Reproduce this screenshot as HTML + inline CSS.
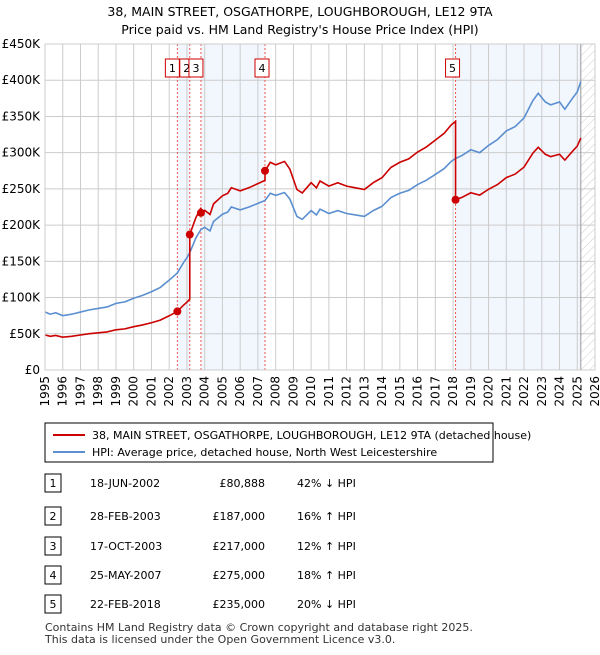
<!DOCTYPE html>
<html><head><meta charset="utf-8"><style>
body{margin:0;background:#fff;font-family:"Liberation Sans","DejaVu Sans",sans-serif;}
svg text{font-family:"DejaVu Sans","Liberation Sans",sans-serif;}
</style></head><body>
<svg id="c" width="600" height="650" viewBox="0 0 600 650" xmlns="http://www.w3.org/2000/svg">
<defs><pattern id="hatch" width="6" height="6" patternUnits="userSpaceOnUse" patternTransform="rotate(45)"><line x1="0" y1="0" x2="0" y2="6" stroke="#ccc" stroke-width="1"/></pattern></defs>
<text x="300" y="16" text-anchor="middle" font-size="12.5">38, MAIN STREET, OSGATHORPE, LOUGHBOROUGH, LE12 9TA</text>
<text x="300" y="34" text-anchor="middle" font-size="12.5">Price paid vs. HM Land Registry's House Price Index (HPI)</text>
<g id="plot"></g>
<g>
<rect x="45" y="423" width="448" height="39" fill="#fff" stroke="#000" stroke-width="1"/>
<line x1="53" y1="435" x2="85" y2="435" stroke="#cc0000" stroke-width="2"/>
<text x="92" y="439" font-size="11">38, MAIN STREET, OSGATHORPE, LOUGHBOROUGH, LE12 9TA (detached house)</text>
<line x1="53" y1="452" x2="85" y2="452" stroke="#5b8fd0" stroke-width="2"/>
<text x="92" y="456" font-size="11">HPI: Average price, detached house, North West Leicestershire</text>
</g>
<g id="table"></g>
<text x="45" y="631" font-size="11" fill="#333">Contains HM Land Registry data © Crown copyright and database right 2025.</text>
<text x="45" y="643" font-size="11" fill="#333">This data is licensed under the Open Government Licence v3.0.</text>
</svg>
<script>
const hpiYears=[1995,1995.3,1995.6,1996,1996.5,1997,1997.5,1998,1998.5,1999,1999.5,2000,2000.5,2001,2001.5,2002,2002.46,2002.8,2003,2003.16,2003.5,2003.79,2004,2004.3,2004.5,2005,2005.3,2005.5,2006,2006.5,2007,2007.4,2007.7,2008,2008.5,2008.8,2009.2,2009.5,2010,2010.3,2010.5,2011,2011.5,2012,2012.5,2013,2013.5,2014,2014.5,2015,2015.5,2016,2016.5,2017,2017.5,2017.9,2018.14,2018.5,2019,2019.5,2020,2020.5,2021,2021.5,2022,2022.5,2022.8,2023.2,2023.5,2024,2024.3,2024.7,2025,2025.2];
const hpiValues=[80000,77000,79000,75000,77000,80000,83000,85000,87000,92000,94000,99000,103000,108000,114000,124000,134000,148000,155000,162000,182000,194000,197000,192000,205000,215000,218000,225000,221000,225000,230000,234000,244000,241000,245000,236000,212000,208000,220000,214000,222000,216000,220000,216000,214000,212000,220000,226000,238000,244000,248000,256000,262000,270000,278000,288000,292000,296000,304000,300000,310000,318000,330000,336000,348000,372000,382000,370000,366000,370000,360000,374000,384000,398000];
const saleLabels=["1","2","3","4","5"];
const saleYears=[2002.46,2003.16,2003.79,2007.4,2018.14];
const saleDates=["18-JUN-2002","28-FEB-2003","17-OCT-2003","25-MAY-2007","22-FEB-2018"];
const salePrices=[80888,187000,217000,275000,235000];
const salePriceText=["£80,888","£187,000","£217,000","£275,000","£235,000"];
const saleHpiText=["42% ↓ HPI","16% ↑ HPI","12% ↑ HPI","18% ↑ HPI","20% ↓ HPI"];
const yTicks=[0,50000,100000,150000,200000,250000,300000,350000,400000,450000];
const yTickLabels=["£0","£50K","£100K","£150K","£200K","£250K","£300K","£350K","£400K","£450K"];
const xStart=1995,xEnd=2026,dataEnd=2025.2;

const L=45,R=595,T=44,B=370;
const X=t=>L+(t-xStart)/(xEnd-xStart)*(R-L);
const Y=v=>B-v/450000*(B-T);
const NS="http://www.w3.org/2000/svg";
const g=document.getElementById('plot');
function mk(tag,attrs,parent){const e=document.createElementNS(NS,tag);for(const k in attrs)e.setAttribute(k,attrs[k]);(parent||g).appendChild(e);return e;}
function hpiAt(t){for(let i=1;i<hpiYears.length;i++){if(t<=hpiYears[i]){const a=hpiYears[i-1],b=hpiYears[i];return hpiValues[i-1]+(hpiValues[i]-hpiValues[i-1])*(t-a)/(b-a);}}return hpiValues[hpiValues.length-1];}

let e;
const spans=[[saleYears[0],saleYears[1]],[saleYears[2],saleYears[3]],[saleYears[4],dataEnd]];
spans.forEach(s=>{e=mk('rect',{x:X(s[0]),y:T,width:X(s[1])-X(s[0]),height:B-T,fill:'#f2f6fd'});

});
e=mk('rect',{x:X(dataEnd),y:T,width:R-X(dataEnd),height:B-T,fill:'url(#hatch)'});


yTicks.forEach((v,i)=>{e=mk('line',{x1:L,x2:R,y1:Y(v),y2:Y(v),stroke:'#cccccc','stroke-width':1});


e=mk('text',{x:L-5,y:Y(v)+4,'text-anchor':'end','font-size':12});e.textContent=yTickLabels[i];

});
for(let yr=xStart;yr<=xEnd;yr++){e=mk('line',{x1:X(yr),x2:X(yr),y1:T,y2:B,stroke:'#cccccc','stroke-width':1});


e=mk('text',{x:0,y:0,'text-anchor':'end','font-size':12,transform:`translate(${X(yr)+4},${B+6}) rotate(-90)`});e.textContent=yr;

}
e=mk('line',{x1:X(dataEnd),x2:X(dataEnd),y1:T,y2:B,stroke:'#999','stroke-width':1});


saleYears.forEach(t=>{e=mk('line',{x1:X(t),x2:X(t),y1:T,y2:B,stroke:'#ee5555','stroke-width':1,'stroke-dasharray':'2,2'});

});
e=mk('polyline',{points:hpiYears.map((t,i)=>X(t)+','+Y(hpiValues[i])).join(' '),fill:'none',stroke:'#5b8fd0','stroke-width':1.6});


const pts=[];
function seg(t0,t1,k){const r=salePrices[k]/hpiAt(saleYears[k]);pts.push([t0,hpiAt(t0)*r]);hpiYears.forEach(t=>{if(t>t0&&t<t1)pts.push([t,hpiAt(t)*r]);});pts.push([t1,hpiAt(t1)*r]);}
seg(xStart,saleYears[1],0);
for(let k=1;k<saleYears.length;k++)seg(saleYears[k],k<saleYears.length-1?saleYears[k+1]:dataEnd,k);
e=mk('polyline',{points:pts.map(p=>X(p[0])+','+Y(p[1])).join(' '),fill:'none',stroke:'#cc0000','stroke-width':1.6});


saleYears.forEach((t,i)=>{e=mk('circle',{cx:X(t),cy:Y(salePrices[i]),r:4,fill:'#cc0000'});

});
saleLabels.forEach((s,i)=>{
const cx=[X(saleYears[0])-5,X(saleYears[1])-3,X(saleYears[2])-5,X(saleYears[3])-3,X(saleYears[4])-3][i];
e=mk('rect',{x:cx-7,y:59,width:14,height:18,fill:'#fff',stroke:'#cc0000','stroke-width':1});


e=mk('text',{x:cx,y:72,'text-anchor':'middle','font-size':11});e.textContent=s;

});
e=mk('rect',{x:L,y:T,width:R-L,height:B-T,fill:'none',stroke:'#cccccc','stroke-width':1});


const tb=document.getElementById('table');
const rowY=[483,516,546,575,604];
saleLabels.forEach((s,i)=>{const y=rowY[i];
e=mk('rect',{x:45,y:y-9,width:16,height:18,fill:'#fff',stroke:'#000','stroke-width':1},tb);


e=mk('text',{x:53,y:y+4,'text-anchor':'middle','font-size':11},tb);e.textContent=s;


e=mk('text',{x:90,y:y+4,'font-size':11},tb);e.textContent=saleDates[i];


e=mk('text',{x:265,y:y+4,'text-anchor':'end','font-size':11},tb);e.textContent=salePriceText[i];


e=mk('text',{x:297,y:y+4,'font-size':11},tb);e.textContent=saleHpiText[i];

});
</script>
</body></html>
